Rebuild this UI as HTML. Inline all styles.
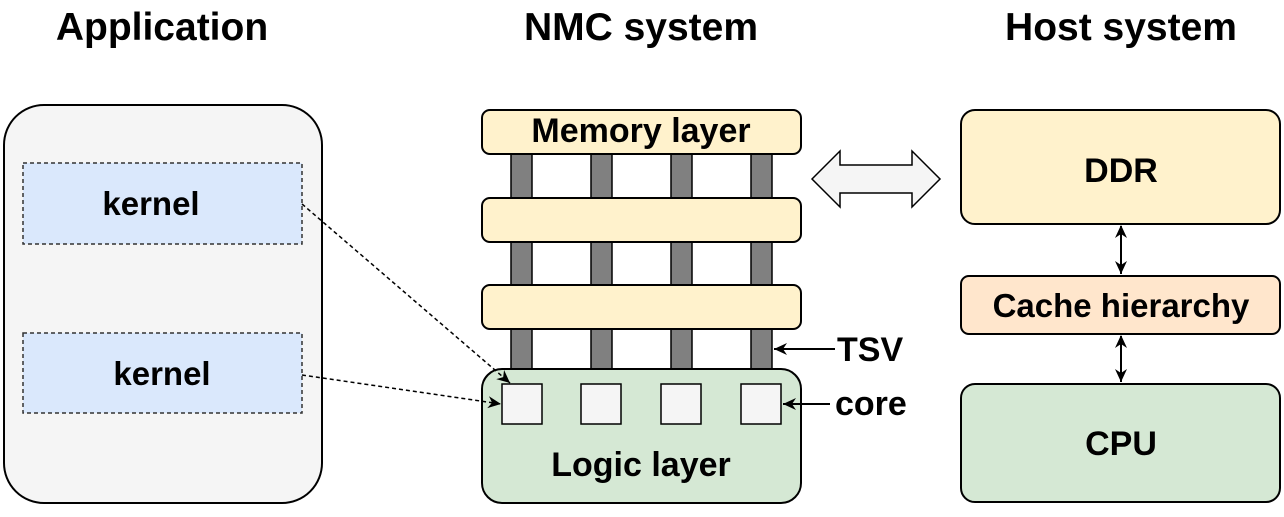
<!DOCTYPE html>
<html><head><meta charset="utf-8"><style>
body{margin:0;background:#fff;}
svg text{font-family:"Liberation Sans",sans-serif;font-weight:bold;}
</style></head><body>
<svg width="1284" height="512" viewBox="0 0 1284 512" xmlns="http://www.w3.org/2000/svg">
<defs>
<marker id="a" markerWidth="14" markerHeight="14" refX="13" refY="6" orient="auto" markerUnits="userSpaceOnUse"><path d="M0,0 L13,6 L0,12 L4,6 Z" fill="#000"/></marker>
<marker id="b" markerWidth="14" markerHeight="14" refX="1" refY="6" orient="auto" markerUnits="userSpaceOnUse"><path d="M13,0 L0,6 L13,12 L9,6 Z" fill="#000"/></marker>
</defs>
<text x="162" y="40" font-size="39" text-anchor="middle">Application</text>
<text x="641" y="40" font-size="39" text-anchor="middle">NMC system</text>
<text x="1121" y="40" font-size="39" text-anchor="middle">Host system</text>

<rect x="4" y="105" width="318" height="398" rx="40" fill="#f5f5f5" stroke="#000" stroke-width="2"/>
<rect x="23" y="163" width="279" height="81" fill="#dae8fc" stroke="#333" stroke-width="1.5" stroke-dasharray="4,3"/>
<text x="151" y="215" font-size="33" text-anchor="middle">kernel</text>
<rect x="23" y="333" width="279" height="80" fill="#dae8fc" stroke="#333" stroke-width="1.5" stroke-dasharray="4,3"/>
<text x="162" y="385" font-size="33" text-anchor="middle">kernel</text>

<g fill="#808080" stroke="#000" stroke-width="1.5">
<rect x="511" y="150" width="21" height="224"/>
<rect x="591" y="150" width="21" height="224"/>
<rect x="671" y="150" width="21" height="224"/>
<rect x="751" y="150" width="21" height="224"/>
</g>
<g fill="#fff2cc" stroke="#000" stroke-width="2">
<rect x="482" y="110" width="319" height="44" rx="8"/>
<rect x="482" y="198" width="319" height="44" rx="8"/>
<rect x="482" y="285" width="319" height="44" rx="8"/>
</g>
<text x="641" y="142" font-size="34" text-anchor="middle">Memory layer</text>
<rect x="482" y="369" width="319" height="134" rx="20" fill="#d5e8d4" stroke="#000" stroke-width="2"/>
<g fill="#f5f5f5" stroke="#000" stroke-width="1.5">
<rect x="502" y="384" width="40" height="40"/>
<rect x="581" y="384" width="40" height="40"/>
<rect x="661" y="384" width="40" height="40"/>
<rect x="741" y="384" width="40" height="40"/>
</g>
<text x="641" y="476" font-size="34" text-anchor="middle">Logic layer</text>

<line x1="302" y1="204" x2="510" y2="383" stroke="#000" stroke-width="1.5" stroke-dasharray="4,3" marker-end="url(#a)"/>
<line x1="302" y1="375" x2="501" y2="404" stroke="#000" stroke-width="1.5" stroke-dasharray="4,3" marker-end="url(#a)"/>

<line x1="835" y1="349" x2="774" y2="349" stroke="#000" stroke-width="2" marker-end="url(#a)"/>
<text x="837" y="361" font-size="34">TSV</text>
<line x1="830" y1="404" x2="783" y2="404" stroke="#000" stroke-width="2" marker-end="url(#a)"/>
<text x="835" y="415" font-size="34">core</text>

<path d="M812,179 L840,151 L840,165 L912,165 L912,151 L940,179 L912,207 L912,193 L840,193 L840,207 Z" fill="#f5f5f5" stroke="#000" stroke-width="1.5"/>

<rect x="961" y="110" width="319" height="114" rx="14" fill="#fff2cc" stroke="#000" stroke-width="2"/>
<text x="1121" y="182" font-size="34" text-anchor="middle">DDR</text>
<rect x="961" y="276" width="319" height="58" rx="8" fill="#ffe6cc" stroke="#000" stroke-width="2"/>
<text x="1121" y="317" font-size="33" text-anchor="middle">Cache hierarchy</text>
<rect x="961" y="384" width="319" height="118" rx="14" fill="#d5e8d4" stroke="#000" stroke-width="2"/>
<text x="1121" y="455" font-size="34" text-anchor="middle">CPU</text>
<line x1="1121" y1="226" x2="1121" y2="274" stroke="#000" stroke-width="2" marker-start="url(#b)" marker-end="url(#a)"/>
<line x1="1121" y1="336" x2="1121" y2="382" stroke="#000" stroke-width="2" marker-start="url(#b)" marker-end="url(#a)"/>
</svg>
</body></html>
